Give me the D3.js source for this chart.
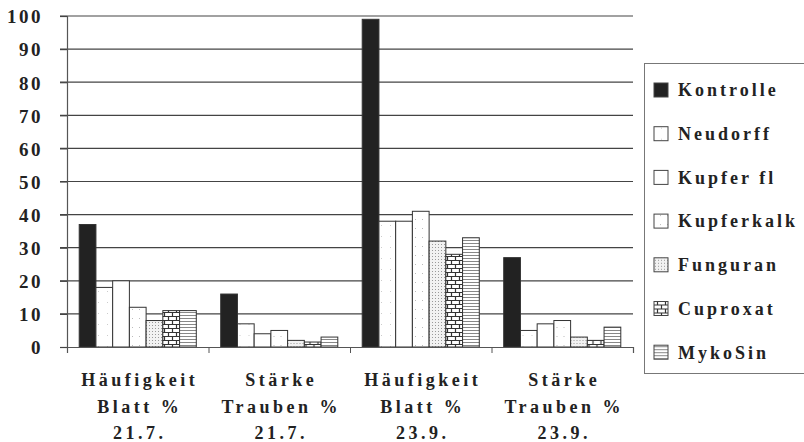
<!DOCTYPE html>
<html>
<head>
<meta charset="utf-8">
<script src="https://cdn.jsdelivr.net/npm/d3@7"></script>
<style>
  body { margin: 0; background: #fff; }
  svg { display: block; }
  svg text { font-family: "Liberation Serif", "Times New Roman", Times, serif !important; font-weight: bold; fill: #222; }
</style>
</head>
<body>
<div id="chart"></div>
<script>
const width = 804,
      height = 442;
const plotLeft = 67, plotRight = 633, plotTop = 16, plotBottom = 347;

// data
const line1 = ["Häufigkeit", "Stärke", "Häufigkeit", "Stärke"];
const line2 = ["Blatt %", "Trauben %", "Blatt %", "Trauben %"];
const dates = ["21.7.", "21.7.", "23.9.", "23.9."];
const series = ["Kontrolle", "Neudorff", "Kupfer fl", "Kupferkalk", "Funguran", "Cuproxat", "MykoSin"];
const kontrolle  = [37, 16, 99, 27];
const neudorff   = [18, 7, 38, 5];
const kupferFl   = [20, 4, 38, 7];
const kupferkalk = [12, 5, 41, 8];
const funguran   = [8, 2, 32, 3];
const cuproxat   = [11, 1.5, 28, 2];
const mykosin    = [11, 3, 33, 6];
const yTicks = [0, 10, 20, 30, 40, 50, 60, 70, 80, 90, 100];

const values = [kontrolle, neudorff, kupferFl, kupferkalk, funguran, cuproxat, mykosin];
const fills = ["#222", "url(#p-neu)", "#fff", "url(#p-kalk)", "url(#p-fung)", "url(#p-cup)", "url(#p-myko)"];

const svg = d3.select("#chart")
  .append("svg")
  .attr("width", width)
  .attr("height", height);

// patterns
const defs = svg.append("defs");
let p = defs.append("pattern").attr("id", "p-neu").attr("patternUnits", "userSpaceOnUse").attr("width", 9).attr("height", 11);
p.append("rect").attr("width", 9).attr("height", 11).attr("fill", "#fff");
p.append("rect").attr("x", 4).attr("y", 5).attr("width", 1).attr("height", 1).attr("fill", "#ccc");

p = defs.append("pattern").attr("id", "p-kalk").attr("patternUnits", "userSpaceOnUse").attr("width", 7).attr("height", 9);
p.append("rect").attr("width", 7).attr("height", 9).attr("fill", "#fff");
p.append("rect").attr("x", 2).attr("y", 3).attr("width", 1).attr("height", 1).attr("fill", "#bbb");

p = defs.append("pattern").attr("id", "p-fung").attr("patternUnits", "userSpaceOnUse").attr("width", 3).attr("height", 3);
p.append("rect").attr("width", 3).attr("height", 3).attr("fill", "#f2f2f2");
p.append("rect").attr("x", 1).attr("y", 1).attr("width", 1).attr("height", 1).attr("fill", "#999");

p = defs.append("pattern").attr("id", "p-cup").attr("patternUnits", "userSpaceOnUse").attr("width", 8).attr("height", 8);
p.append("rect").attr("width", 8).attr("height", 8).attr("fill", "#fff");
p.append("path").attr("d", "M0,0.5H8M0,4.5H8M1.5,0V4M5.5,4V8").attr("stroke", "#333").attr("stroke-width", 1.2);

p = defs.append("pattern").attr("id", "p-myko").attr("patternUnits", "userSpaceOnUse").attr("width", 4).attr("height", 3);
p.append("rect").attr("width", 4).attr("height", 3).attr("fill", "#fff");
p.append("path").attr("d", "M0,0.5H4").attr("stroke", "#888").attr("stroke-width", 1);

// scales
const x0 = d3.scaleBand().domain(d3.range(4)).range([plotLeft, plotRight]).padding(0);
const x1 = d3.scaleBand().domain(d3.range(series.length)).range([0, x0.bandwidth()])
  .paddingInner(0).paddingOuter(0.73);
const y = d3.scaleLinear().domain([0, 100]).range([plotBottom, plotTop]);

// grid
svg.append("g")
  .selectAll("line")
  .data(yTicks.filter(d => d > 0))
  .join("line")
  .attr("x1", plotLeft - 7).attr("x2", plotRight)
  .attr("y1", d => y(d)).attr("y2", d => y(d))
  .attr("stroke", "#444").attr("stroke-width", 1.2);

// y axis
const yAxis = svg.append("g")
  .attr("transform", `translate(${plotLeft},0)`)
  .call(d3.axisLeft(y).tickValues(yTicks).tickSize(7).tickPadding(17));
yAxis.attr("font-family", null);
yAxis.select(".domain").attr("stroke", "#555").attr("stroke-width", 1.2);
yAxis.selectAll(".tick line").attr("stroke", "#444").attr("stroke-width", 1.2);
yAxis.selectAll(".tick text")
  .attr("font-size", 19)
  .attr("letter-spacing", 2.5)
  .attr("fill", "#222")
  .attr("dy", "0.36em");

// bars
const groups = svg.append("g")
  .selectAll("g")
  .data(d3.range(4))
  .join("g")
  .attr("transform", i => `translate(${x0(i)},0)`);

groups.selectAll("rect")
  .data(i => values.map((v, s) => ({ s: s, v: v[i] })))
  .join("rect")
  .attr("x", d => x1(d.s))
  .attr("y", d => y(d.v))
  .attr("width", x1.bandwidth())
  .attr("height", d => y(0) - y(d.v))
  .attr("fill", d => fills[d.s])
  .attr("stroke", "#333")
  .attr("stroke-width", 1);

// x axis
const xb = d3.scaleLinear().domain([0, 4]).range([plotLeft, plotRight]);
const xAxis = svg.append("g")
  .attr("transform", `translate(0,${plotBottom})`)
  .call(d3.axisBottom(xb).ticks(4).tickSize(6).tickFormat(""));
xAxis.select(".domain").attr("stroke", "#555").attr("stroke-width", 1.2);
xAxis.selectAll(".tick line").attr("stroke", "#555");

// category labels
[line1, line2, dates].forEach((arr, k) => {
  svg.append("g")
    .selectAll("text")
    .data(arr)
    .join("text")
    .attr("x", (d, i) => x0(i) + x0.bandwidth() / 2 + 2)
    .attr("y", 386 + k * 26.5)
    .attr("text-anchor", "middle")
    .attr("font-size", 18)
    .attr("letter-spacing", 3.5)
    .text(d => d);
});

// legend
const legend = svg.append("g");
legend.append("rect")
  .attr("x", 644.5).attr("y", 63.5)
  .attr("width", 170).attr("height", 310)
  .attr("fill", "#fff")
  .attr("stroke", "#777").attr("stroke-width", 1);

const item = legend.selectAll("g.item")
  .data(series)
  .join("g")
  .attr("class", "item")
  .attr("transform", (d, i) => `translate(0,${90 + i * 43.7})`);
item.append("rect")
  .attr("x", 654).attr("y", -7)
  .attr("width", 14).attr("height", 14)
  .attr("fill", (d, i) => fills[i])
  .attr("stroke", "#444");
item.append("text")
  .attr("x", 678).attr("y", 0)
  .attr("dy", "0.35em")
  .attr("font-size", 18)
  .attr("letter-spacing", 3)
  .text(d => d);
</script>
</body>
</html>
